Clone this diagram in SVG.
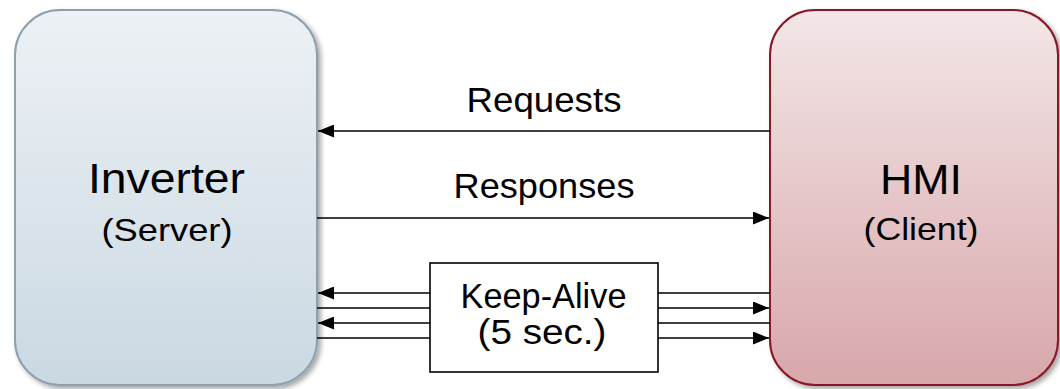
<svg xmlns="http://www.w3.org/2000/svg" width="1060" height="389" viewBox="0 0 1060 389">
<style>
.t{font-family:"Liberation Sans",Arial,sans-serif;fill:#000;text-anchor:middle}
.ln{stroke:#000;stroke-width:1.6;fill:none}
</style>
<defs>
<linearGradient id="gL" x1="0" y1="0" x2="0" y2="1">
<stop offset="0" stop-color="#EDF1F5"/>
<stop offset="1" stop-color="#CAD8E2"/>
</linearGradient>
<linearGradient id="gR" x1="0" y1="0" x2="0" y2="1">
<stop offset="0" stop-color="#F3E6E7"/>
<stop offset="1" stop-color="#D8A7AA"/>
</linearGradient>
<filter id="sh" x="-10%" y="-10%" width="125%" height="125%">
<feDropShadow dx="3" dy="3" stdDeviation="2.5" flood-color="#000" flood-opacity="0.35"/>
</filter>
<marker id="ah" markerUnits="userSpaceOnUse" markerWidth="16" markerHeight="13" refX="16" refY="6.5" orient="auto">
<path d="M0,0 L16,6.5 L0,13 Z" fill="#000"/>
</marker>
</defs>
<g id="inverter">
<rect x="15" y="10" width="302" height="375" rx="45" ry="45" fill="url(#gL)" stroke="#8DA0AF" stroke-width="2" filter="url(#sh)"/>
<text class="t" x="166.5" y="193" font-size="42" textLength="157" lengthAdjust="spacingAndGlyphs">Inverter</text>
<text class="t" x="167" y="241" font-size="32" textLength="131" lengthAdjust="spacingAndGlyphs">(Server)</text>
</g>
<g id="hmi">
<rect x="770" y="10" width="288" height="375" rx="45" ry="45" fill="url(#gR)" stroke="#8A1528" stroke-width="2" filter="url(#sh)"/>
<text class="t" x="921" y="194" font-size="42" textLength="82" lengthAdjust="spacingAndGlyphs">HMI</text>
<text class="t" x="921" y="240" font-size="32" textLength="115" lengthAdjust="spacingAndGlyphs">(Client)</text>
</g>
<g id="keepalive">
<rect x="430" y="263" width="228" height="109" fill="#fff" stroke="#000" stroke-width="1.6"/>
<text class="t" x="543.5" y="308" font-size="35" textLength="166" lengthAdjust="spacingAndGlyphs">Keep-Alive</text>
<text class="t" x="542" y="344" font-size="35" textLength="129" lengthAdjust="spacingAndGlyphs">(5 sec.)</text>
</g>
<g id="connectors">
<line class="ln" x1="770" y1="131" x2="318" y2="131" marker-end="url(#ah)"/>
<text class="t" x="544" y="112" font-size="35" textLength="155" lengthAdjust="spacingAndGlyphs">Requests</text>
<line class="ln" x1="317" y1="218" x2="769" y2="218" marker-end="url(#ah)"/>
<text class="t" x="544" y="198" font-size="35" textLength="181" lengthAdjust="spacingAndGlyphs">Responses</text>
<line class="ln" x1="430" y1="293" x2="318" y2="293" marker-end="url(#ah)"/>
<line class="ln" x1="430" y1="308" x2="317" y2="308"/>
<line class="ln" x1="430" y1="323" x2="318" y2="323" marker-end="url(#ah)"/>
<line class="ln" x1="430" y1="338" x2="317" y2="338"/>
<line class="ln" x1="658" y1="293" x2="770" y2="293"/>
<line class="ln" x1="658" y1="308" x2="769" y2="308" marker-end="url(#ah)"/>
<line class="ln" x1="658" y1="323" x2="770" y2="323"/>
<line class="ln" x1="658" y1="338" x2="769" y2="338" marker-end="url(#ah)"/>
</g>
</svg>
